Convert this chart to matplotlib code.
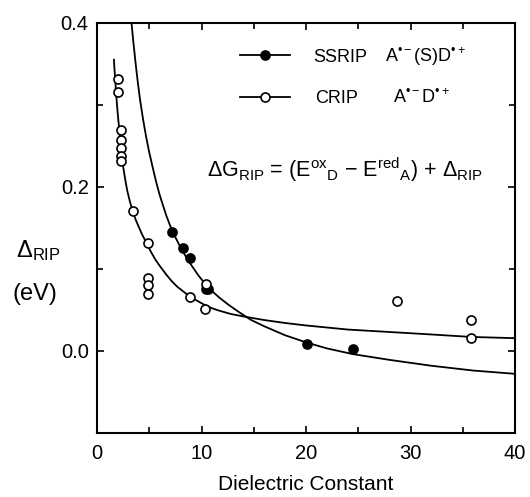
import matplotlib
matplotlib.use("Agg")
import matplotlib.pyplot as plt
from matplotlib.ticker import MultipleLocator, FormatStrFormatter

plt.rcParams['font.family'] = ['Liberation Sans', 'DejaVu Sans']
plt.rcParams['mathtext.fontset'] = 'custom'
plt.rcParams['mathtext.rm'] = 'Liberation Sans'
plt.rcParams['mathtext.it'] = 'Liberation Sans'
plt.rcParams['mathtext.bf'] = 'Liberation Sans:bold'

# SSRIP (filled) data
ssrip_eps = [7.17, 8.22, 8.9, 10.4, 10.6, 20.1, 24.5]
ssrip_val = [0.145, 0.125, 0.113, 0.076, 0.075, 0.008, 0.002]

# CRIP (open) data
crip_eps = [2.03, 2.03, 2.28, 2.28, 2.28, 2.28, 2.28, 3.4, 4.85, 4.85, 4.85, 4.85,
            8.9, 10.35, 10.4, 28.7, 35.8, 35.8]
crip_val = [0.332, 0.316, 0.269, 0.257, 0.248, 0.238, 0.232, 0.170, 0.132, 0.089,
            0.080, 0.069, 0.066, 0.051, 0.081, 0.061, 0.038, 0.016]

# fitted curves
ssrip_fit_eps = [3.3, 3.5, 3.7, 3.9, 4.1, 4.4, 4.7, 5.0, 5.36, 5.7, 6.0, 6.3, 6.63,
                 7.17, 7.6, 8.0, 8.5, 9.0, 9.7, 10.4, 11.0, 11.7, 12.5, 13.5, 14.7,
                 16.0, 18.0, 20.1, 22.0, 24.5, 28.0, 31.9, 36.0, 40.0]
ssrip_fit_val = [0.400, 0.374, 0.350, 0.328, 0.308, 0.283, 0.261, 0.242, 0.222,
                 0.204, 0.190, 0.178, 0.165, 0.147, 0.136, 0.126, 0.115, 0.105,
                 0.092, 0.081, 0.073, 0.065, 0.057, 0.048, 0.038, 0.030, 0.019,
                 0.010, 0.003, -0.004, -0.011, -0.018, -0.024, -0.028]

crip_fit_eps = [1.62, 1.68, 1.75, 1.81, 1.87, 1.94, 2.0, 2.07, 2.13, 2.2, 2.3, 2.4,
                2.5, 2.7, 2.9, 3.15, 3.4, 3.7, 4.0, 4.35, 4.73, 5.15, 5.6, 6.1,
                6.63, 7.15, 7.7, 8.3, 8.92, 9.6, 10.3, 11.0, 11.7, 12.8, 14.0,
                16.0, 18.0, 20.0, 24.0, 28.7, 32.0, 35.8, 40.0]
crip_fit_val = [0.355, 0.342, 0.330, 0.318, 0.307, 0.296, 0.287, 0.278, 0.270,
                0.259, 0.246, 0.235, 0.225, 0.209, 0.195, 0.182, 0.171, 0.160,
                0.151, 0.141, 0.132, 0.121, 0.111, 0.102, 0.093, 0.085, 0.078,
                0.072, 0.066, 0.061, 0.056, 0.052, 0.049, 0.045, 0.042, 0.0376,
                0.034, 0.031, 0.026, 0.0225, 0.020, 0.017, 0.0155]

fig = plt.figure(figsize=(5.30, 4.97), dpi=100)
ax = fig.add_axes([0.183, 0.129, 0.789, 0.825])

lw_curve = 1.3
ax.plot(ssrip_fit_eps, ssrip_fit_val, color='black', lw=lw_curve, zorder=2,
        solid_joinstyle='round')
ax.plot(crip_fit_eps, crip_fit_val, color='black', lw=lw_curve, zorder=2,
        solid_joinstyle='round')

ax.plot(ssrip_eps, ssrip_val, 'o', ms=6.5, mfc='black', mec='black', mew=1.2, zorder=3)
ax.plot(crip_eps, crip_val, 'o', ms=6.5, mfc='white', mec='black', mew=1.2, zorder=4)

ax.set_xlim(0, 40)
ax.set_ylim(-0.1, 0.4)
ax.xaxis.set_major_locator(MultipleLocator(10))
ax.xaxis.set_minor_locator(MultipleLocator(5))
ax.yaxis.set_major_locator(MultipleLocator(0.2))
ax.yaxis.set_minor_locator(MultipleLocator(0.1))
ax.tick_params(which='both', direction='in', top=True, right=True, width=1.2,
               labelsize=14.5)
ax.tick_params(axis='x', pad=8)
ax.tick_params(axis='y', pad=6)
ax.tick_params(which='major', length=5)
ax.tick_params(which='minor', length=4)
ax.yaxis.set_major_formatter(FormatStrFormatter('%.1f'))
ax.xaxis.set_major_formatter(FormatStrFormatter('%d'))
for s in ax.spines.values():
    s.set_linewidth(1.5)

# legend drawn manually
for yy, fc in [(0.922, 'black'), (0.820, 'white')]:
    ax.plot([0.342, 0.462], [yy, yy], color='black', lw=1.3, transform=ax.transAxes,
            clip_on=False)
    ax.plot([0.402], [yy], 'o', ms=6.5, mfc=fc, mec='black', mew=1.2,
            transform=ax.transAxes, clip_on=False)

ax.text(0.517, 0.905, 'SSRIP', transform=ax.transAxes, fontsize=13, va='baseline', ha='left')
ax.text(0.689, 0.905, r'A$^{\mathrm{•−}}$(S)D$^{\mathrm{•+}}$', transform=ax.transAxes,
        fontsize=13, va='baseline', ha='left')
ax.text(0.522, 0.805, 'CRIP', transform=ax.transAxes, fontsize=13, va='baseline', ha='left')
ax.text(0.708, 0.805, r'A$^{\mathrm{•−}}$D$^{\mathrm{•+}}$', transform=ax.transAxes,
        fontsize=13, va='baseline', ha='left')

ax.text(0.263, 0.624,
        r'$\Delta$G$_{\mathrm{RIP}}$ = (E$^{\mathrm{ox}}$$_{\mathrm{D}}$ − E$^{\mathrm{red}}$$_{\mathrm{A}}$) + $\Delta_{\mathrm{RIP}}$',
        transform=ax.transAxes, fontsize=15.5, va='baseline', ha='left')

ax.set_xlabel('Dielectric Constant', fontsize=15, labelpad=9)

fig.text(0.030, 0.483, r'$\Delta_{\mathrm{RIP}}$', fontsize=17, ha='left', va='baseline')
fig.text(0.023, 0.396, '(eV)', fontsize=17, ha='left', va='baseline')

fig.savefig('out.png', dpi=100)
